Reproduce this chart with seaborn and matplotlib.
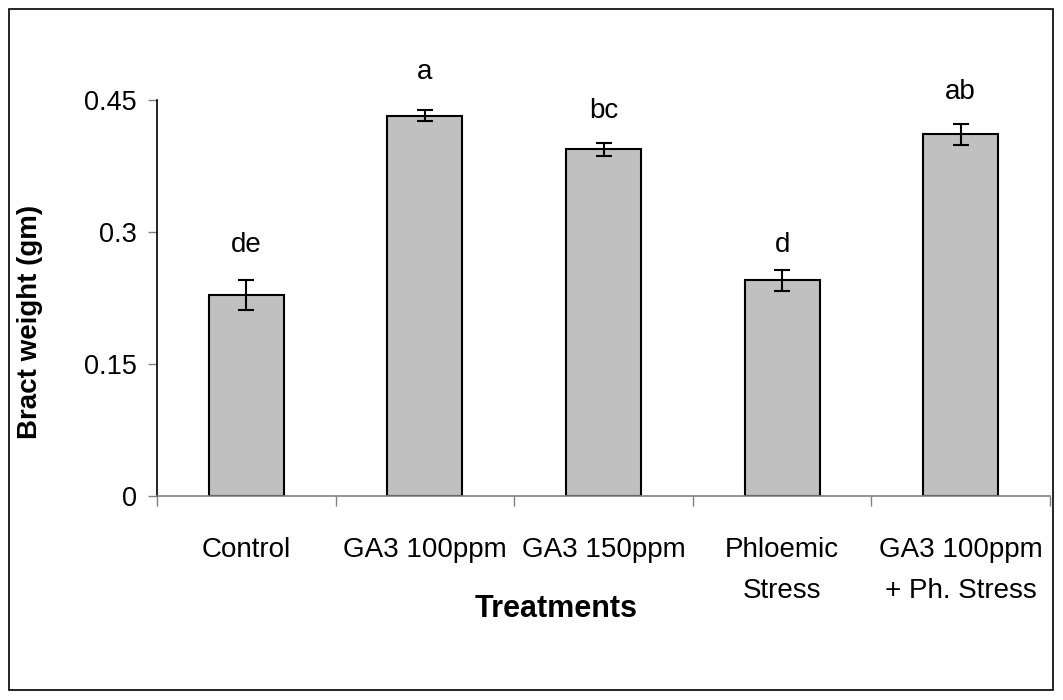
import numpy as np
import pandas as pd
import matplotlib
matplotlib.use('Agg')
import matplotlib.pyplot as plt
import seaborn as sns
from matplotlib.patches import Rectangle
from matplotlib.ticker import FixedLocator

treatments = ['Control', 'GA3 100ppm', 'GA3 150ppm', 'Phloemic\nStress', 'GA3 100ppm\n+ Ph. Stress']
bract_weight = [0.228, 0.432, 0.394, 0.245, 0.411]
std_err = [0.017, 0.0063, 0.0072, 0.0115, 0.0118]
letters = ['de', 'a', 'bc', 'd', 'ab']
letter_y = [0.277, 0.474, 0.43, 0.277, 0.451]
y_ticks = [0, 0.15, 0.3, 0.45]
y_tick_labels = ['0', '0.15', '0.3', '0.45']

sns.set_theme(style='white')
plt.rcParams['font.family'] = ['Liberation Sans', 'DejaVu Sans']
plt.rcParams['text.color'] = 'black'
plt.rcParams['axes.labelcolor'] = 'black'
plt.rcParams['xtick.labelcolor'] = 'black'
plt.rcParams['ytick.labelcolor'] = 'black'

df = pd.DataFrame({'Treatment': treatments, 'Weight': bract_weight})

fig = plt.figure(figsize=(10.63, 7.0), dpi=100)
ax = fig.add_axes([157 / 1063, 1 - 496 / 700, 893 / 1063, 396 / 700])

sns.barplot(data=df, x='Treatment', y='Weight', color='#C0C0C0',
            edgecolor='black', linewidth=1.5, width=0.42, saturation=1, ax=ax)
x = np.arange(len(treatments))
ax.errorbar(x, bract_weight, yerr=std_err, fmt='none', ecolor='black',
            elinewidth=1.5, capsize=5.5, capthick=1.5)

# significance letters above each bar
for xi, lab, ly in zip(x, letters, letter_y):
    ax.text(xi, ly, lab, ha='center', va='baseline', fontsize=20, clip_on=False)

ax.set_xlim(-0.5, len(treatments) - 0.5)
ax.set_ylim(0, 0.45)
ax.set_yticks(y_ticks)
ax.set_yticklabels(y_tick_labels, fontsize=19.5)
ax.tick_params(axis='y', direction='out', length=6.5, width=1, color='#808080', pad=8, left=True)

ax.set_xticks(x)
ax.set_xticklabels(treatments, fontsize=20, linespacing=1.75, va='top')
ax.tick_params(axis='x', which='major', length=0, pad=29.5)
ax.xaxis.set_minor_locator(FixedLocator(np.arange(-0.5, len(treatments), 1.0)))
ax.tick_params(axis='x', which='minor', direction='out', length=7.5, width=1,
               color='#808080', bottom=True)

for s in ['top', 'right']:
    ax.spines[s].set_visible(False)
ax.spines['left'].set_color('black')
ax.spines['left'].set_linewidth(1.2)
ax.spines['bottom'].set_color('#808080')
ax.spines['bottom'].set_linewidth(1.2)

ax.set_xlabel('Treatments', fontsize=22, fontweight='bold')
ax.xaxis.set_label_coords((556 - 157) / 893, -(609 - 496) / 396)
ax.xaxis.label.set_va('center')
ax.set_ylabel('Bract weight (gm)', fontsize=20, fontweight='bold')
ax.yaxis.set_label_coords((30 - 157) / 893, (496 - 322) / 396)
ax.yaxis.label.set_va('center')

# outer frame around the whole chart
fig.patches.append(Rectangle((9 / 1063, 1 - 690 / 700), 1044 / 1063, 681 / 700,
                             transform=fig.transFigure, fill=False,
                             edgecolor='black', linewidth=1.2))

fig.savefig('out.png', dpi=100)
